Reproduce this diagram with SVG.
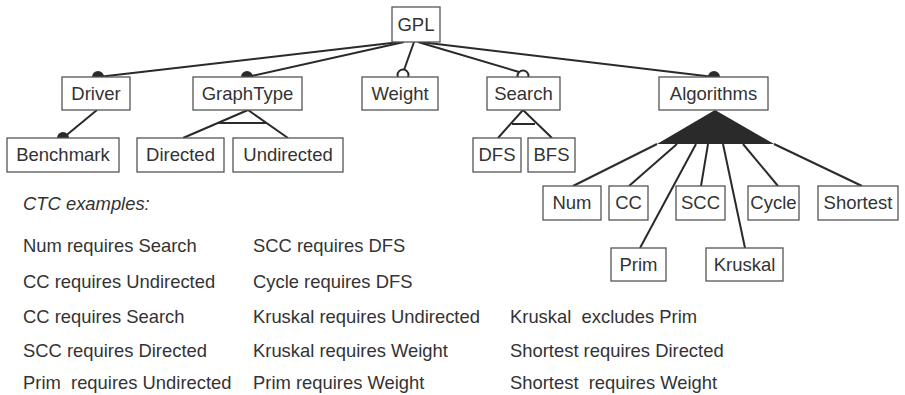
<svg xmlns="http://www.w3.org/2000/svg" width="905" height="395" viewBox="0 0 905 395">
<style>
.box{fill:#fff;stroke:#555;stroke-width:1.3}
.lbl{font-family:"Liberation Sans",Arial,sans-serif;font-size:18.5px;fill:#333;text-anchor:middle}
.ctc{font-family:"Liberation Sans",Arial,sans-serif;font-size:18.4px;fill:#333;white-space:pre}
.e{stroke:#2a2a2a;stroke-width:2;fill:none}
.mand{fill:#2a2a2a}
.opt{fill:#fff;stroke:#2a2a2a;stroke-width:2}
</style>
<rect width="905" height="395" fill="#fff"/>
<g id="connectors">
<line class="e" x1="400" y1="42" x2="98" y2="77"/>
<line class="e" x1="404" y1="42" x2="247" y2="77"/>
<line class="e" x1="414" y1="42" x2="404" y2="70"/>
<line class="e" x1="418" y1="42" x2="519" y2="72"/>
<line class="e" x1="420" y1="42" x2="714" y2="77"/>
<line class="e" x1="97" y1="110" x2="63" y2="138"/>
<polyline class="e" points="183,138 248,110 288,138"/>
<line class="e" x1="218" y1="123" x2="267" y2="123"/>
<polyline class="e" points="498,138 523,110 552,138"/>
<line class="e" x1="512" y1="124" x2="535" y2="124"/>
<polygon points="715,110 657,144 774,144" fill="#2a2a2a"/>
<line class="e" x1="657" y1="144" x2="573" y2="186"/>
<line class="e" x1="677" y1="144" x2="629" y2="186"/>
<line class="e" x1="696" y1="144" x2="640" y2="248"/>
<line class="e" x1="708" y1="144" x2="701" y2="186"/>
<line class="e" x1="723" y1="144" x2="745" y2="248"/>
<line class="e" x1="743" y1="144" x2="778" y2="186"/>
<line class="e" x1="774" y1="144" x2="862" y2="186"/>
<circle class="mand" cx="98" cy="77" r="6"/>
<circle class="mand" cx="247" cy="77" r="6"/>
<circle class="opt" cx="403" cy="75" r="5.5"/>
<circle class="opt" cx="523" cy="76" r="5.5"/>
<circle class="mand" cx="714" cy="77" r="6"/>
<circle class="mand" cx="63" cy="138" r="6"/>
</g>
<g id="GPL"><rect class="box" x="392" y="7" width="48" height="35"/><text class="lbl" x="416" y="31">GPL</text></g>
<g id="Driver"><rect class="box" x="62" y="77" width="68" height="33"/><text class="lbl" x="96" y="100">Driver</text></g>
<g id="GraphType"><rect class="box" x="193" y="77" width="109" height="33"/><text class="lbl" x="247.5" y="100">GraphType</text></g>
<g id="Weight"><rect class="box" x="362" y="77" width="76" height="33"/><text class="lbl" x="400" y="100">Weight</text></g>
<g id="Search"><rect class="box" x="487" y="77" width="73" height="33"/><text class="lbl" x="523.5" y="100">Search</text></g>
<g id="Algorithms"><rect class="box" x="659" y="77" width="109" height="33"/><text class="lbl" x="713.5" y="100">Algorithms</text></g>
<g id="Benchmark"><rect class="box" x="7" y="138" width="112" height="34"/><text class="lbl" x="63" y="161">Benchmark</text></g>
<g id="Directed"><rect class="box" x="137" y="138" width="87" height="34"/><text class="lbl" x="180.5" y="161">Directed</text></g>
<g id="Undirected"><rect class="box" x="233" y="138" width="110" height="34"/><text class="lbl" x="288" y="161">Undirected</text></g>
<g id="DFS"><rect class="box" x="473" y="138" width="48" height="34"/><text class="lbl" x="497" y="161">DFS</text></g>
<g id="BFS"><rect class="box" x="528" y="138" width="47" height="34"/><text class="lbl" x="551.5" y="161">BFS</text></g>
<g id="Num"><rect class="box" x="543" y="186" width="58" height="34"/><text class="lbl" x="572" y="209">Num</text></g>
<g id="CC"><rect class="box" x="609" y="186" width="39" height="34"/><text class="lbl" x="628.5" y="209">CC</text></g>
<g id="SCC"><rect class="box" x="676" y="186" width="49" height="34"/><text class="lbl" x="700.5" y="209">SCC</text></g>
<g id="Cycle"><rect class="box" x="748" y="186" width="51" height="34"/><text class="lbl" x="773.5" y="209">Cycle</text></g>
<g id="Shortest"><rect class="box" x="818" y="186" width="80" height="34"/><text class="lbl" x="858" y="209">Shortest</text></g>
<g id="Prim"><rect class="box" x="611" y="248" width="55" height="33"/><text class="lbl" x="638.5" y="271">Prim</text></g>
<g id="Kruskal"><rect class="box" x="706" y="248" width="77" height="33"/><text class="lbl" x="744.5" y="271">Kruskal</text></g>
<g id="ctc">
<text class="ctc" x="23" y="210" font-style="italic">CTC examples:</text>
<text class="ctc" x="23" y="252">Num requires Search</text>
<text class="ctc" x="23" y="288">CC requires Undirected</text>
<text class="ctc" x="23" y="323">CC requires Search</text>
<text class="ctc" x="23" y="357">SCC requires Directed</text>
<text class="ctc" x="23" y="389" xml:space="preserve">Prim  requires Undirected</text>
<text class="ctc" x="253" y="252">SCC requires DFS</text>
<text class="ctc" x="253" y="288">Cycle requires DFS</text>
<text class="ctc" x="253" y="323">Kruskal requires Undirected</text>
<text class="ctc" x="253" y="357">Kruskal requires Weight</text>
<text class="ctc" x="253" y="389">Prim requires Weight</text>
<text class="ctc" x="510" y="323" xml:space="preserve">Kruskal  excludes Prim</text>
<text class="ctc" x="510" y="357">Shortest requires Directed</text>
<text class="ctc" x="510" y="389" xml:space="preserve">Shortest  requires Weight</text>
</g>
</svg>
